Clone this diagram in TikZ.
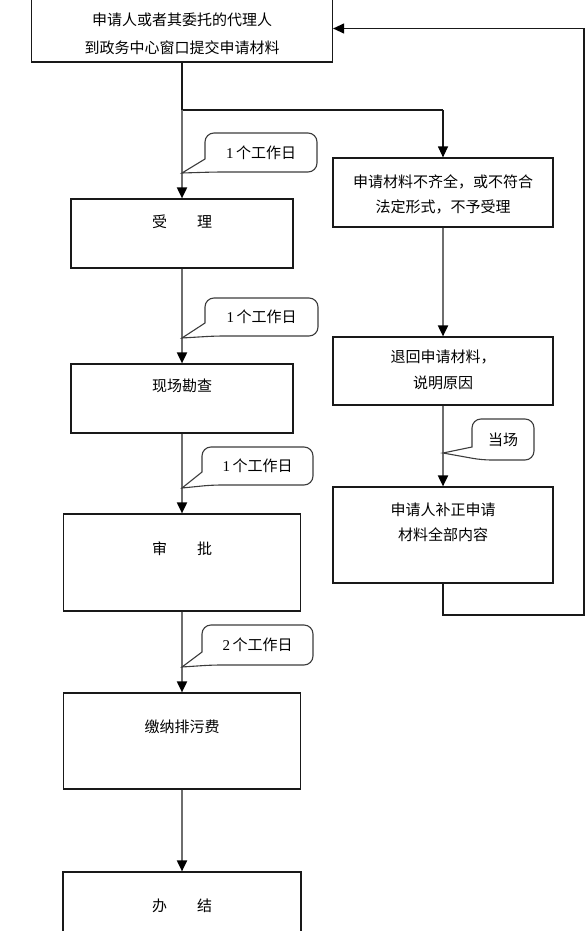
\documentclass[tikz,border=0pt]{standalone}
\usepackage{fontspec}
\newfontfamily\cjk{Noto Sans CJK SC}
\newfontfamily\lserif{Liberation Serif}
\usetikzlibrary{arrows.meta}
\definecolor{lg}{RGB}{110,110,110}
\definecolor{bd}{RGB}{25,25,25}
\newcommand\bubblepath[6]{\draw[bubble] (#5,#6) -- (#1,#4-13) [rounded corners=9pt] -- (#1,#2) -- (#3,#2) -- (#3,#4) -- (#1+10,#4) [sharp corners] -- cycle;}
\begin{document}
\begin{tikzpicture}[x=1pt,y=-1pt,
  box/.style={draw=bd,line width=1.2pt,inner sep=0pt,fill=white},
  txt/.style={font=\cjk\fontsize{15}{25}\selectfont,align=center,inner sep=0pt,text=black},
  garrow/.style={draw=lg,line width=1.9pt,-{Triangle[width=10pt,length=11pt,color=black]}},
  barrow/.style={draw=bd,line width=1.2pt,-{Triangle[width=10pt,length=11pt,color=black]}},
  bline/.style={draw=bd,line width=1.2pt},
  bubble/.style={draw=bd!85,line width=1.1pt,fill=white},
  ]
\useasboundingbox (0,0) rectangle (588,931);
% boxes
\node[box,minimum width=301pt,minimum height=67pt] (top) at (182,28.5) {};
\node[box,minimum width=222pt,minimum height=69pt] (b1) at (182,233.5) {};
\node[box,minimum width=222pt,minimum height=69pt] (b2) at (182,398.5) {};
\node[box,minimum width=237pt,minimum height=97pt] (b3) at (182,562.5) {};
\node[box,minimum width=237pt,minimum height=96pt] (b4) at (182,741) {};
\node[box,minimum width=238pt,minimum height=70pt] (b5) at (182,907) {};
\node[box,minimum width=220pt,minimum height=69pt] (r1) at (443,192.5) {};
\node[box,minimum width=220pt,minimum height=68pt] (r2) at (443,371) {};
\node[box,minimum width=220pt,minimum height=96pt] (r3) at (443,535) {};
% texts
\node[txt,font=\cjk\fontsize{15}{28}\selectfont] (ttop) at (182,34) {申请人或者其委托的代理人\\到政务中心窗口提交申请材料};
\node[txt] (tb1) at (182,222) {受\hspace{2em}理};
\node[txt] (tb2) at (182,386) {现场勘查};
\node[txt] (tb3) at (182,549) {审\hspace{2em}批};
\node[txt] (tb4) at (182,727) {缴纳排污费};
\node[txt] (tb5) at (182,906) {办\hspace{2em}结};
\node[txt] (tr1) at (443,194.5) {申请材料不齐全，或不符合\\法定形式，不予受理};
\node[txt,font=\cjk\fontsize{15}{26}\selectfont] (tr2) at (443,370) {退回申请材料，\\说明原因};
\node[txt] (tr3) at (443,522.5) {申请人补正申请\\材料全部内容};
% connectors
\coordinate (split) at (182,110);
\coordinate (splitr) at (443,110);
\draw[bline] (top.south) -- (split) -- (splitr);
\draw[barrow] (splitr) -- (r1.north);
\draw[garrow] (split) -- (b1.north);
\draw[garrow] (b1.south) -- (b2.north);
\draw[garrow] (b2.south) -- (b3.north);
\draw[garrow] (b3.south) -- (b4.north);
\draw[garrow] (b4.south) -- (b5.north);
\draw[garrow] (r1.south) -- (r2.north);
\draw[garrow] (r2.south) -- (r3.north);
\coordinate (lp1) at (443,615);
\coordinate (lp2) at (584,615);
\coordinate (lp3) at (584,28.5);
\draw[barrow] (r3.south) -- (lp1) -- (lp2) -- (lp3) -- (top.east);
% callouts
\bubblepath{205}{133}{317}{172}{182}{173}
\node[txt] (c1) at (261,152.5) {{\lserif 1}\,个工作日};
\bubblepath{205}{298}{318}{336}{182}{338}
\node[txt] (c2) at (261.5,317) {{\lserif 1}\,个工作日};
\bubblepath{202}{447}{313}{485}{182}{488}
\node[txt] (c3) at (257.5,466) {{\lserif 1}\,个工作日};
\bubblepath{202}{625}{313}{665}{182}{667}
\node[txt] (c4) at (257.5,645) {{\lserif 2}\,个工作日};
\bubblepath{472}{419}{534}{460}{443}{453}
\node[txt] (c5) at (503,439.5) {当场};
\end{tikzpicture}
\end{document}
